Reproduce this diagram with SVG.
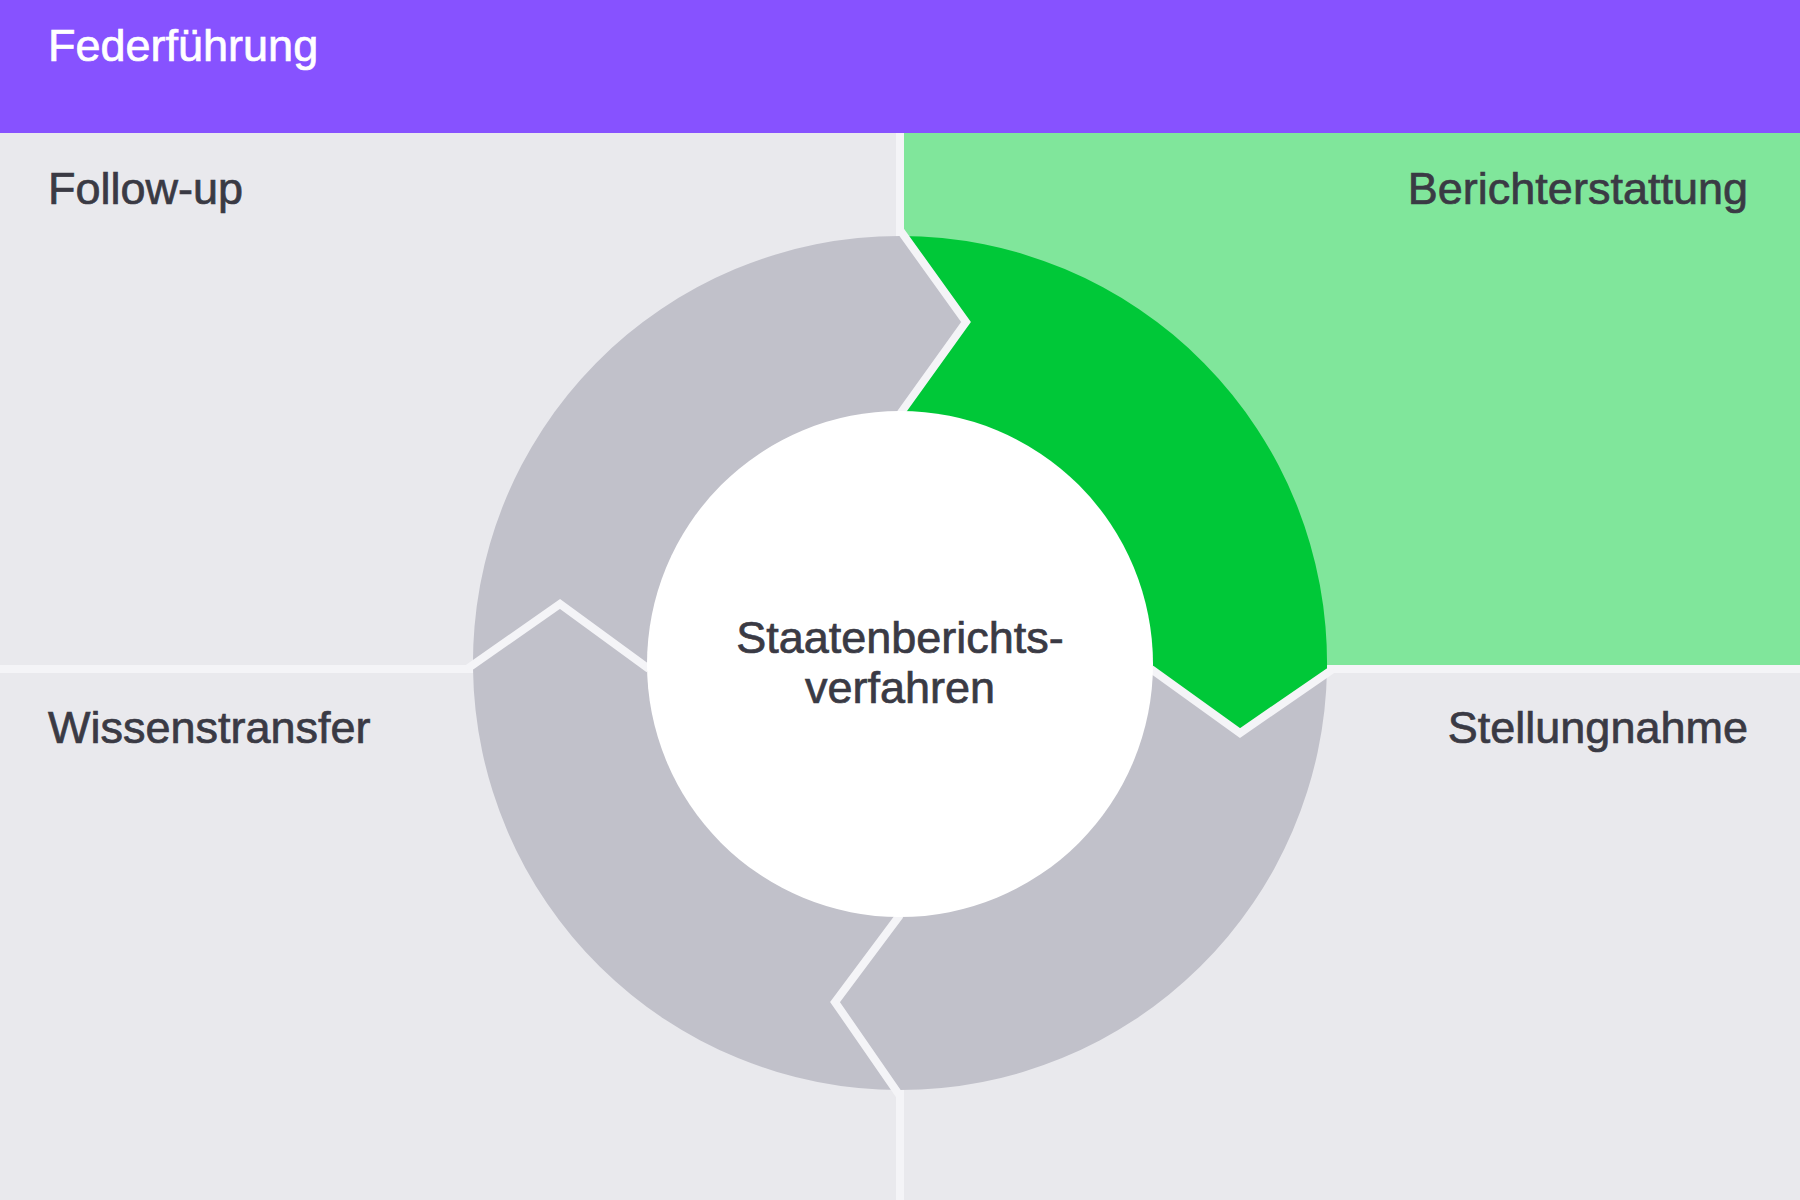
<svg xmlns="http://www.w3.org/2000/svg" width="1800" height="1200" viewBox="0 0 1800 1200">
  <style>
    .lbl { font-family: "Liberation Sans", Arial, sans-serif; font-size: 45px; fill: #3A3A44; stroke: #3A3A44; stroke-width: 0.7px; }
    .hdr { font-family: "Liberation Sans", Arial, sans-serif; font-size: 45px; fill: #FFFFFF; stroke: #FFFFFF; stroke-width: 0.7px; }
    .ctr { font-family: "Liberation Sans", Arial, sans-serif; font-size: 45px; fill: #3A3A44; stroke: #3A3A44; stroke-width: 0.7px; text-anchor: middle; }
    .seg { fill: #C1C1CA; }
    .segActive { fill: #00C838; }
    .gap { fill: none; stroke: #F4F4F7; stroke-width: 8; stroke-linejoin: miter; }
    .div { fill: #F4F4F7; }
  </style>

  <!-- background quadrants -->
  <rect x="0" y="0" width="1800" height="1200" fill="#E9E9ED"/>
  <rect x="900" y="133" width="900" height="536" fill="#80E69B"/>

  <!-- quadrant dividers -->
  <g id="dividers">
    <rect class="div" x="896" y="133" width="8" height="1067"/>
    <rect class="div" x="0" y="665" width="1800" height="8"/>
  </g>

  <!-- header -->
  <g id="header">
    <rect x="0" y="0" width="1800" height="133" fill="#8752FF"/>
    <text class="hdr" x="48" y="61">Federführung</text>
  </g>

  <!-- quadrant labels -->
  <g id="label-follow-up"><text class="lbl" x="48" y="204">Follow-up</text></g>
  <g id="label-berichterstattung"><text class="lbl" x="1748" y="204" text-anchor="end">Berichterstattung</text></g>
  <g id="label-wissenstransfer"><text class="lbl" x="48" y="743">Wissenstransfer</text></g>
  <g id="label-stellungnahme"><text class="lbl" x="1748" y="743" text-anchor="end">Stellungnahme</text></g>

  <!-- cycle segments -->
  <g id="seg-berichterstattung">
    <path class="segActive" d="M900,236 L966,322 L900,412 L900,663 L1153,669 L1240,733 L1327,669 A427 427 0 0 0 900,236 Z"/>
  </g>
  <g id="seg-stellungnahme">
    <path class="seg" d="M1327,669 L1240,733 L1153,669 L900,663 L900,917 L835,1002 L900,1090 A427 427 0 0 0 1327,669 Z"/>
  </g>
  <g id="seg-wissenstransfer">
    <path class="seg" d="M900,1090 L835,1002 L900,917 L900,663 L647,669 L560,604 L473,669 A427 427 0 0 0 900,1090 Z"/>
  </g>
  <g id="seg-follow-up">
    <path class="seg" d="M473,669 L560,604 L647,669 L900,663 L900,412 L966,322 L900,236 A427 427 0 0 0 473,669 Z"/>
  </g>

  <!-- chevron gaps between segments -->
  <g id="connectors">
    <polyline class="gap" points="900,230 966,322 900,414"/>
    <polyline class="gap" points="1151,669 1240,733 1333,669"/>
    <polyline class="gap" points="900,915 835,1002 900,1096"/>
    <polyline class="gap" points="467,669 560,604 649,669"/>
  </g>

  <!-- center -->
  <g id="center">
    <circle cx="900" cy="664" r="253" fill="#FFFFFF"/>
    <text class="ctr" x="900" y="653">Staatenberichts-</text>
    <text class="ctr" x="900" y="703">verfahren</text>
  </g>
</svg>
